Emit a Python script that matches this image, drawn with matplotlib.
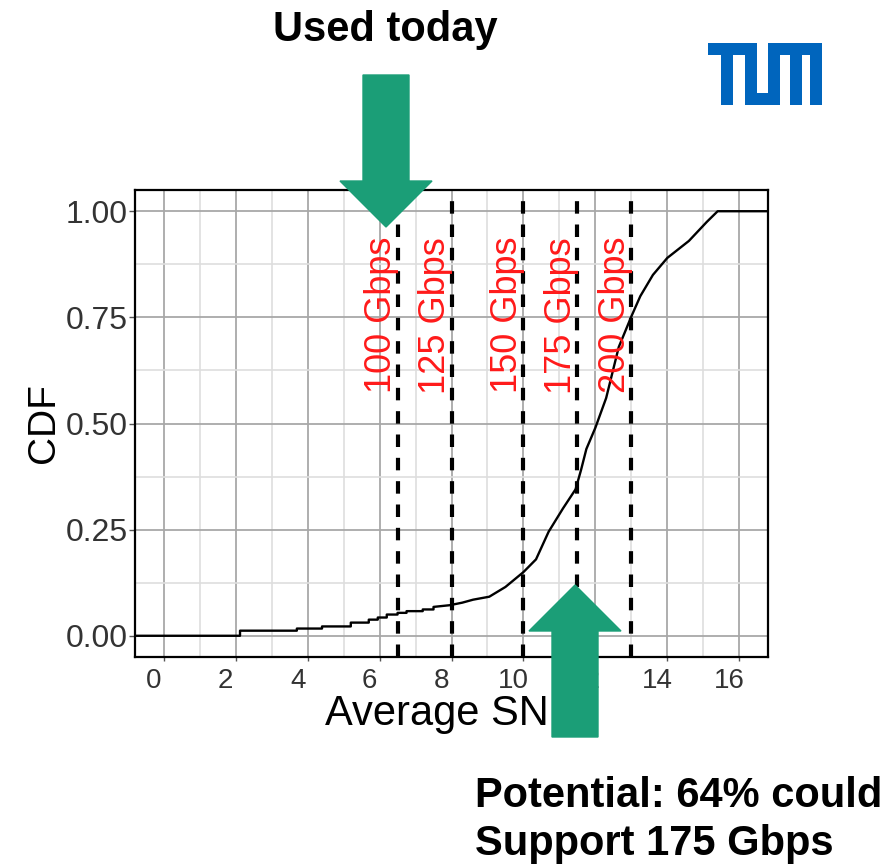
import numpy as np
import matplotlib
matplotlib.use('Agg')
import matplotlib.pyplot as plt
from matplotlib.patches import Polygon, Rectangle
from matplotlib.transforms import ScaledTranslation

plt.rcParams['font.family'] = ['Liberation Sans', 'DejaVu Sans']

snr = [-0.8, 2.12, 2.12, 3.7, 3.7, 4.4, 4.4, 5.2, 5.2, 5.7, 5.7, 5.95, 5.95,
       6.2, 6.2, 6.5, 6.5, 6.75, 6.75, 7.2, 7.2, 7.5, 7.5, 7.95, 8.3, 8.6,
       9.05, 9.5, 10.0, 10.35, 10.7, 11.1, 11.45, 11.6, 11.75, 12.0, 12.3,
       12.65, 13.0, 13.25, 13.6, 14.0, 14.6, 15.1, 15.4, 16.8]
cdf = [0, 0, 0.012, 0.012, 0.017, 0.017, 0.022, 0.022, 0.031, 0.031, 0.038,
       0.038, 0.043, 0.043, 0.05, 0.05, 0.054, 0.054, 0.058, 0.058, 0.062,
       0.062, 0.068, 0.072, 0.078, 0.085, 0.092, 0.115, 0.15, 0.18, 0.245,
       0.30, 0.345, 0.39, 0.44, 0.49, 0.56, 0.68, 0.752, 0.80, 0.85, 0.89,
       0.93, 0.975, 1.0, 1.0]

thresholds = [6.5, 8.0, 10.0, 11.5, 13.0]
rates = ['100 Gbps', '125 Gbps', '150 Gbps', '175 Gbps', '200 Gbps']

x_ticks = [0, 2, 4, 6, 8, 10, 12, 14, 16]
y_ticks = [0.0, 0.25, 0.5, 0.75, 1.0]

W, H = 890, 867
fig = plt.figure(figsize=(W / 100, H / 100), dpi=100)


def fx(px):
    return px / W


def fy(py):
    return 1 - py / H


ax = fig.add_axes([fx(135), fy(657), (768 - 135) / W, (657 - 190) / H])
ax.set_xlim(-0.8, 16.8)
ax.set_ylim(-0.05, 1.05)

ax.set_xticks(x_ticks)
ax.set_xticks(np.arange(1, 17, 2), minor=True)
ax.set_yticks(y_ticks)
ax.set_yticklabels(['%.2f' % v for v in y_ticks])
ax.set_yticks([0.125, 0.375, 0.625, 0.875], minor=True)
ax.grid(True, which='major', color='#a8a8a8', lw=1.3)
ax.grid(True, which='minor', color='#dedede', lw=1.2)
ax.set_axisbelow(True)
for s in ax.spines.values():
    s.set_linewidth(1.6)
    s.set_color('black')

ax.tick_params(which='minor', length=0)
ax.tick_params(axis='y', which='major', labelsize=23, length=4, width=1,
               color='#555555', labelcolor='#333333', pad=1)
ax.tick_params(axis='x', which='major', labelsize=20, length=3, width=1,
               color='#555555', labelcolor='#333333', pad=5)
shift = ScaledTranslation(-0.1, 0, fig.dpi_scale_trans)
for lab in ax.get_xticklabels():
    lab.set_transform(lab.get_transform() + shift)

ax.set_xlabel('Average SNR', fontsize=30, labelpad=0)
ax.set_ylabel('CDF', fontsize=28, labelpad=3)

ax.plot(snr, cdf, color='black', lw=1.7, zorder=3)

for t, r in zip(thresholds, rates):
    ax.axvline(t, color='black', lw=3, ls=(0, (3, 2.6)), zorder=4)
    ax.text(t - 0.45, 0.755, r, rotation=90, ha='center', va='center',
            color='#ff1a1a', fontsize=26, zorder=5)

green = '#1b9e77'


def arrow(cx, y0, y1, shaft_w, head_w, head_y):
    # vertical block arrow from y0 (tail) to y1 (tip), pixel coords
    pts = [(cx - shaft_w / 2, y0), (cx + shaft_w / 2, y0),
           (cx + shaft_w / 2, head_y), (cx + head_w / 2, head_y),
           (cx, y1), (cx - head_w / 2, head_y), (cx - shaft_w / 2, head_y)]
    fig.patches.append(Polygon([(fx(a), fy(b)) for a, b in pts], closed=True,
                               transform=fig.transFigure, color=green,
                               zorder=10))


arrow(386, 75, 227, 46, 92, 181)
arrow(575, 737, 585, 46, 92, 631)

fig.text(fx(385), fy(30), 'Used today', ha='center', va='center',
         fontsize=30, fontweight='bold')
fig.text(fx(475), fy(820), 'Potential: 64% could\nSupport 175 Gbps',
         ha='left', va='center', fontsize=30, fontweight='bold',
         linespacing=1.28)

# TUM logo built from blocks
tum = '#0065bd'
logo = [(708, 43, 757, 55), (721, 55, 733, 105), (745, 43, 757, 105),
        (745, 93, 780, 105), (768, 43, 780, 105), (768, 43, 822, 55),
        (790, 43, 802, 105), (810, 43, 822, 105)]
for x0, y0, x1, y1 in logo:
    fig.patches.append(Rectangle((fx(x0), fy(y1)), fx(x1 - x0), (y1 - y0) / H,
                                 transform=fig.transFigure, color=tum, lw=0))

fig.savefig('out.png', dpi=100)
